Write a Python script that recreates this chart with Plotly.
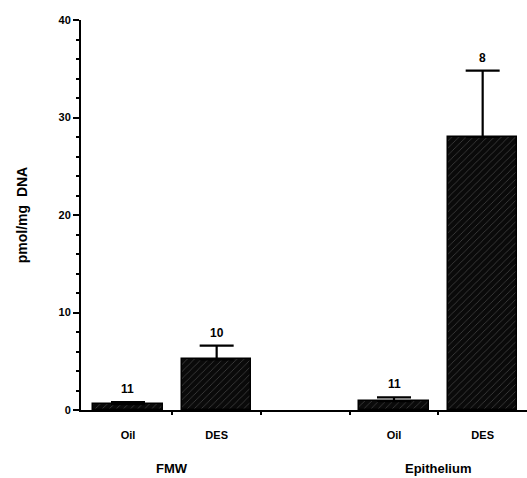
import plotly.graph_objects as go

groups = ["FMW", "Epithelium"]
conditions = ["Oil", "DES"]
means = [0.6, 5.2, 0.9, 28.0]
errors = [0.2, 1.4, 0.4, 6.8]
n_labels = ["11", "10", "11", "8"]
y_ticks = [0, 10, 20, 30, 40]

# x positions derived from group/condition index (one empty slot between groups)
xpos = []
xlab = []
for gi, g in enumerate(groups):
    for ci, c in enumerate(conditions):
        xpos.append(gi * 3 + ci + 1)
        xlab.append(c)

fig = go.Figure()
fig.add_trace(go.Bar(
    x=xpos, y=means, width=0.78,
    marker=dict(color="#0a0a0a", line=dict(color="black", width=1.5),
                pattern=dict(shape="/", fgcolor="#9a9a9a", size=5, solidity=0.12)),
    error_y=dict(type="data", symmetric=False, array=errors,
                 arrayminus=[0] * len(errors), color="black", thickness=2.2, width=17),
    showlegend=False,
))

font_b = "Liberation Sans"
for x, m, e, t in zip(xpos, means, errors, n_labels):
    fig.add_annotation(x=x, y=m + e, text=t, showarrow=False,
                       yanchor="bottom", yshift=4,
                       font=dict(family=font_b, size=12, color="black", weight="bold"))

for gi, g in enumerate(groups):
    fig.add_annotation(x=gi * 3 + 1.5, y=0, yref="y", text=g,
                       showarrow=False, yanchor="middle", yshift=-58,
                       font=dict(family=font_b, size=13, color="black", weight="bold"))

fig.update_layout(
    width=527, height=478,
    margin=dict(l=81, r=0, t=20, b=68),
    plot_bgcolor="white", paper_bgcolor="white",
    bargap=0,
    xaxis=dict(range=[0.47, 5.5], tickmode="array", tickvals=xpos,
               ticktext=xlab, ticks="", ticklabelstandoff=14,
               showline=True, linecolor="black", linewidth=2,
               showgrid=False, zeroline=False,
               tickfont=dict(family=font_b, size=11, color="black", weight="bold"),
               minor=dict(tickmode="array", tickvals=[1.5, 2.5, 3.5, 4.5],
                          ticks="outside", ticklen=3, tickwidth=1.5, tickcolor="black")),
    yaxis=dict(range=[0, 40], tickmode="array", tickvals=y_ticks,
               ticks="outside", ticklen=6, tickwidth=2, tickcolor="black",
               showline=True, linecolor="black", linewidth=2,
               showgrid=False, zeroline=False,
               tickfont=dict(family=font_b, size=11, color="black", weight="bold"),
               minor=dict(dtick=2, tick0=0, ticks="outside", ticklen=3,
                          tickwidth=1.5, tickcolor="black", showgrid=False),
               title=dict(text="pmol/mg  DNA", standoff=28,
                          font=dict(family=font_b, size=14, color="black", weight="bold"))),
)

fig.write_html("out.html")
